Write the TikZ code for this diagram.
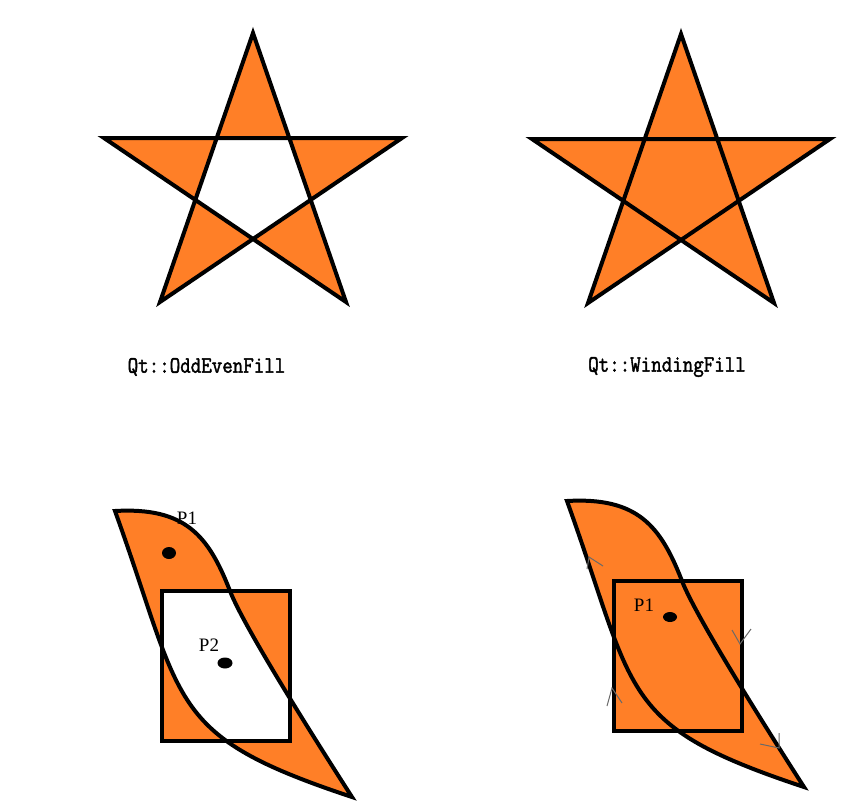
\documentclass[tikz,border=0pt]{standalone}
\usepackage{fontspec}
\setmainfont{Liberation Serif}
\newfontfamily\monof[FakeBold=2]{Latin Modern Mono}
\definecolor{qorange}{RGB}{255,127,39}
\definecolor{chevgray}{RGB}{105,105,105}
\tikzset{
  outline/.style={draw=black, line width=4pt, line join=miter},
  orfill/.style={fill=qorange},
  chev/.style={draw=chevgray, line width=1pt},
  qtlabel/.style={inner sep=0pt, font=\monof\fontsize{20.4}{22}\selectfont},
  plabel/.style={inner sep=0pt, font=\fontsize{19}{21}\selectfont},
}
\newcommand\starpath{(253,33) -- (160,302) -- (402,138) -- (104,138) -- (346,302) -- cycle}
\newcommand\lenspath{(115,511) .. controls (185,507) and (208.4,535.2) .. (230,591) .. controls (244.4,628.2) and (319.6,746.6) .. (352,797) .. controls (165,735) and (185,705) .. (115,511) -- cycle}
\newcommand\rectpath{(162,591) -- (290,591) -- (290,741) -- (162,741) -- cycle}
\begin{document}
\begin{tikzpicture}[x=1pt, y=-1pt]
\useasboundingbox (0,0) rectangle (848,807);
% top stars
\path[orfill, even odd rule] \starpath;
\draw[outline] \starpath;
\begin{scope}[shift={(428,1)}]
\path[orfill, nonzero rule] \starpath;
\draw[outline] \starpath;
\end{scope}
% labels
\node[qtlabel] (lodd) at (206.5,367) {\scalebox{1}[1.15]{Qt::OddEvenFill}};
\node[qtlabel] (lwind) at (667,367) {\scalebox{1}[1.15]{Qt::WindingFill}};
% bottom left: odd-even
\path[orfill, even odd rule] \lenspath \rectpath;
\draw[outline] \lenspath;
\draw[outline] \rectpath;
\node[plabel] (p1a) at (187,518) {P1};
\node[plabel] (p2a) at (209,645) {P2};
\fill (169,553) ellipse [x radius=7, y radius=6];
\fill (225,663) ellipse [x radius=7.5, y radius=5.5];
% bottom right: winding
\begin{scope}[shift={(452,-10)}]
\path[orfill, nonzero rule] \lenspath \rectpath;
\draw[outline] \lenspath;
\draw[outline] \rectpath;
\end{scope}
\node[plabel] (p1b) at (644,605) {P1};
\fill (670,617) ellipse [x radius=7, y radius=5];
% direction chevrons
\coordinate (c1a) at (587,569); \coordinate (c1) at (589,557); \coordinate (c1b) at (603,566);
\coordinate (c2a) at (732,630); \coordinate (c2) at (740,644); \coordinate (c2b) at (751,629);
\coordinate (c3a) at (607,706); \coordinate (c3) at (612,688); \coordinate (c3b) at (622,703);
\coordinate (c4a) at (779,733); \coordinate (c4) at (779,748); \coordinate (c4b) at (760,744);
\draw[chev] (c1a) -- (c1) -- (c1b);
\draw[chev] (c2a) -- (c2) -- (c2b);
\draw[chev] (c3a) -- (c3) -- (c3b);
\draw[chev] (c4a) -- (c4) -- (c4b);
\end{tikzpicture}
\end{document}
